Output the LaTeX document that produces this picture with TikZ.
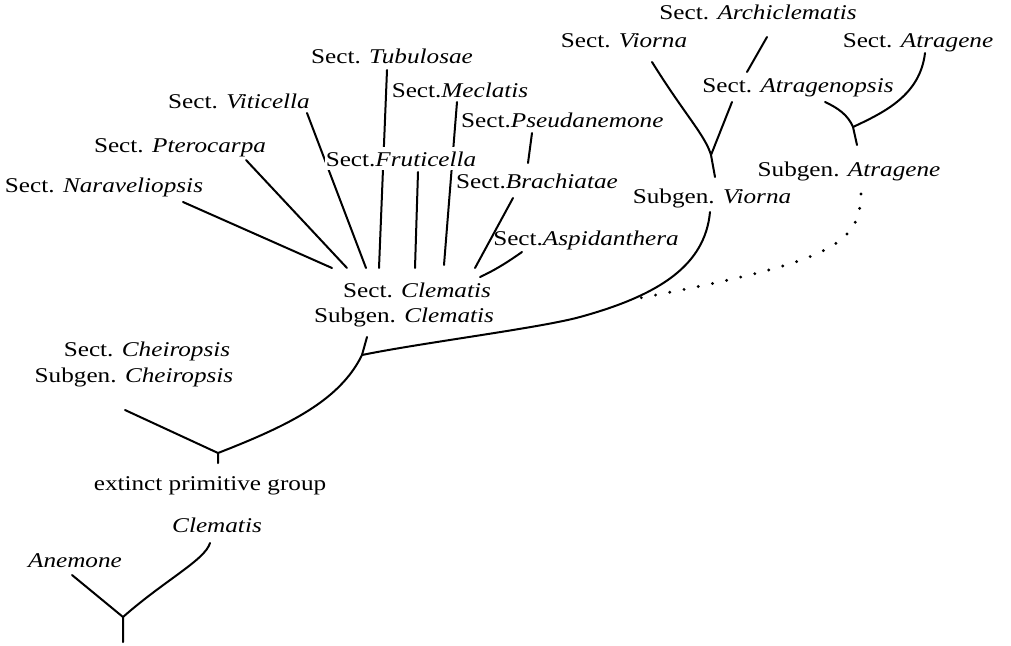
\documentclass[tikz,border=0pt]{standalone}
\usepackage{fontspec}
\setmainfont{Liberation Serif}[FakeStretch=1.2]
\begin{document}
\begin{tikzpicture}[x=1pt,y=-1pt,
  lbl/.style={anchor=base,inner sep=0pt,font=\fontsize{21}{24}\selectfont},
  br/.style={line width=2pt,line cap=round,line join=round},
  dots/.style={line width=3.2pt,line cap=round,dash pattern=on 0pt off 14.5pt}]
\useasboundingbox (0,0) rectangle (1011,645);
% ---- branch end points
\coordinate (naraE) at (183,202);  \coordinate (cNara) at (332,268);
\coordinate (pteroE) at (246,160); \coordinate (cPtero) at (347,268);
\coordinate (vitE) at (307,113);   \coordinate (cVit) at (366,268);
\coordinate (tubE) at (387,70);    \coordinate (cTub) at (379,268);
\coordinate (fruE) at (418,172);   \coordinate (cFru) at (415,268);
\coordinate (mecE) at (457,102);   \coordinate (cMec) at (444,265);
\coordinate (pseE) at (532,133);   \coordinate (braT) at (528,163);
\coordinate (braE) at (513,198);   \coordinate (cBra) at (475,268);
\coordinate (aspE) at (522,252);   \coordinate (cAsp) at (480,277);
\coordinate (viorE) at (652,62);   \coordinate (jV) at (711,155);
\coordinate (svT) at (715,177);    \coordinate (atrpL) at (732,102);
\coordinate (archE) at (767,37);   \coordinate (atrpT) at (747,72);
\coordinate (atrE) at (925,53);    \coordinate (jA) at (853,127);
\coordinate (atrpR) at (825,102);  \coordinate (saT) at (857,145);
\coordinate (saB) at (861,194);    \coordinate (dotE) at (640,298);
\coordinate (svB) at (710,212);    \coordinate (jC) at (362,355);
\coordinate (scB) at (367,337);    \coordinate (jE) at (218,453);
\coordinate (cheE) at (125,410);   \coordinate (eT) at (218,463);
\coordinate (anE) at (72,575);     \coordinate (clE) at (210,543);
\coordinate (jB) at (123,617);     \coordinate (bB) at (123,642);
% ---- branches
\draw[br] (naraE) -- (cNara);
\draw[br] (pteroE) -- (cPtero);
\draw[br] (vitE) -- (cVit);
\draw[br] (tubE) -- (cTub);
\draw[br] (fruE) -- (cFru);
\draw[br] (mecE) -- (cMec);
\draw[br] (pseE) -- (braT);
\draw[br] (braE) -- (cBra);
\draw[br] (aspE) .. controls (505,264) and (493,271) .. (cAsp);
\draw[br] (viorE) .. controls (685,115) and (705,135) .. (jV) -- (svT);
\draw[br] (atrpL) -- (jV);
\draw[br] (archE) -- (atrpT);
\draw[br] (atrE) .. controls (920,95) and (885,112) .. (jA);
\draw[br] (atrpR) .. controls (838,108) and (848,115) .. (jA) -- (saT);
\draw[dots] (saB) .. controls (860,245) and (830,262) .. (dotE);
\draw[br] (svB) .. controls (705,265) and (660,295) .. (580,317)
          .. controls (540,328) and (420,343) .. (jC);
\draw[br] (scB) -- (jC) .. controls (340,400) and (290,425) .. (jE) -- (eT);
\draw[br] (cheE) -- (jE);
\draw[br] (anE) -- (jB) -- (bB);
\draw[br] (clE) .. controls (205,560) and (165,580) .. (jB);
% ---- labels
\node[lbl] (arch) at (758,19) {Sect. \textit{Archiclematis}};
\node[lbl] (viorna) at (624,47) {Sect. \textit{Viorna}};
\node[lbl] (atragene) at (918,47) {Sect. \textit{Atragene}};
\node[lbl] (atragenopsis) at (798,92) {Sect. \textit{Atragenopsis}};
\node[lbl] (subatr) at (849,176) {Subgen. \textit{Atragene}};
\node[lbl] (subvio) at (712,203) {Subgen. \textit{Viorna}};
\node[lbl,anchor=base west] (pseud) at (461,127) {Sect.\textit{Pseudanemone}};
\node[lbl] (brach) at (537,188) {Sect.\textit{Brachiatae}};
\node[lbl] (aspid) at (586,245) {Sect.\textit{Aspidanthera}};
\node[lbl] (mecl) at (460,97) {Sect.\textit{Meclatis}};
\node[lbl] (tubu) at (392,63) {Sect. \textit{Tubulosae}};
\node[lbl] (vitic) at (239,108) {Sect. \textit{Viticella}};
\node[lbl] (ptero) at (180,152) {Sect. \textit{Pterocarpa}};
\node[lbl] (narav) at (104,192.5) {Sect. \textit{Naraveliopsis}};
\node[lbl,fill=white,inner ysep=4pt,inner xsep=1pt] (frut) at (401,166) {Sect.\textit{Fruticella}};
\node[lbl] (sectcl) at (417,297) {Sect. \textit{Clematis}};
\node[lbl] (subcl) at (404,322) {Subgen. \textit{Clematis}};
\node[lbl] (sectch) at (147,356) {Sect. \textit{Cheiropsis}};
\node[lbl] (subch) at (134,382) {Subgen. \textit{Cheiropsis}};
\node[lbl] (extinct) at (210,490) {extinct primitive group};
\node[lbl] (clem) at (217,532) {\textit{Clematis}};
\node[lbl] (anem) at (75,567) {\textit{Anemone}};
\end{tikzpicture}
\end{document}
